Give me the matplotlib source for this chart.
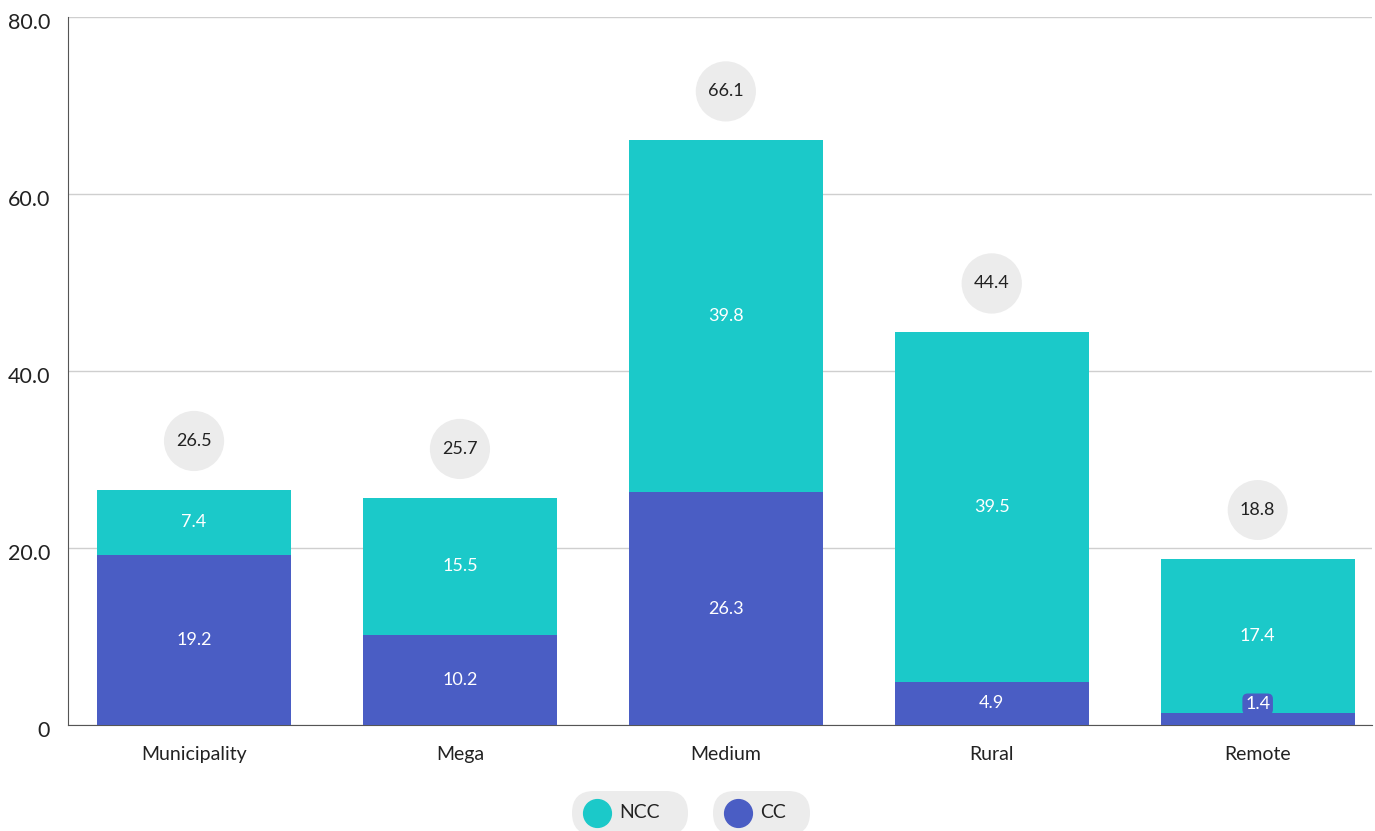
import matplotlib
matplotlib.use("Agg")
import matplotlib.pyplot as plt
from matplotlib.patches import FancyBboxPatch
from matplotlib.lines import Line2D
from matplotlib.transforms import ScaledTranslation

categories = ["Municipality", "Mega", "Medium", "Rural", "Remote"]
cc_values = [19.2, 10.2, 26.3, 4.9, 1.4]
ncc_values = [7.4, 15.5, 39.8, 39.5, 17.4]
total_labels = ["26.5", "25.7", "66.1", "44.4", "18.8"]
y_ticks = [0, 20, 40, 60, 80]
y_tick_labels = ["0", "20.0", "40.0", "60.0", "80.0"]

TEAL = "#1bc9c9"
BLUE = "#4a5dc4"
TEXT = "#222222"
FONT = ["Lato", "DejaVu Sans"]

plt.rcParams["font.family"] = FONT

fig = plt.figure(figsize=(13.75, 8.31), dpi=100)
W, H = 1375, 831
ax = fig.add_axes([68 / W, 1 - 725 / H, (1372 - 68) / W, (725 - 17) / H])

x = list(range(len(categories)))
width = 0.73
ax.bar(x, cc_values, width=width, color=BLUE, zorder=3)
ax.bar(x, ncc_values, width=width, bottom=cc_values, color=TEAL, zorder=3)

ax.set_xlim(-0.474, 4.43)
ax.set_ylim(0, 80)
ax.set_yticks(y_ticks)
ax.set_yticklabels(y_tick_labels, fontsize=15.5, color=TEXT)
ax.set_xticks(x)
ax.set_xticklabels(categories, fontsize=14, color=TEXT)
ax.tick_params(axis="both", length=0)
ax.tick_params(axis="y", pad=13)
ax.tick_params(axis="x", pad=15)
# y labels sit slightly below their gridlines
shift = ScaledTranslation(0, -4 / 100, fig.dpi_scale_trans)
for lbl in ax.get_yticklabels():
    lbl.set_transform(lbl.get_transform() + shift)
ax.yaxis.grid(True, color="#cfcfcf", linewidth=1, zorder=0)
ax.set_axisbelow(True)
for side in ["top", "right"]:
    ax.spines[side].set_visible(False)
ax.spines["left"].set_color("#555555")
ax.spines["bottom"].set_color("#555555")

# segment labels
for i, (c, n) in enumerate(zip(cc_values, ncc_values)):
    if c >= 3:
        ax.text(i, c / 2, f"{c:.1f}", ha="center", va="center",
                color="white", fontsize=13, zorder=5)
    else:
        ax.text(i, c + 0.95, f"{c:.1f}", ha="center", va="center",
                color="white", fontsize=13, zorder=5,
                bbox=dict(boxstyle="round,pad=0.15,rounding_size=0.3",
                          fc=BLUE, ec="none"))
    ax.text(i, c + n / 2, f"{n:.1f}", ha="center", va="center",
            color="white", fontsize=13, zorder=5)

# totals in circles above each stack
for i, (c, n, lab) in enumerate(zip(cc_values, ncc_values, total_labels)):
    ax.annotate(lab, xy=(i, c + n), xytext=(0, 35), textcoords="offset points",
                ha="center", va="center", fontsize=13, color=TEXT, zorder=6,
                bbox=dict(boxstyle="circle,pad=0.68", fc="#ececec", ec="none"),
                annotation_clip=False)

# pill-shaped legend at the bottom
legend_items = [("NCC", TEAL, 572, 688), ("CC", BLUE, 713, 810)]
yc = 813
for label, color, x0, x1 in legend_items:
    h = 44
    pill = FancyBboxPatch((x0 / W, (H - yc - h / 2) / H), (x1 - x0) / W, h / H,
                          boxstyle=f"round,pad=0,rounding_size={h / 2 / W}",
                          transform=fig.transFigure, fc="#ececec", ec="none",
                          mutation_aspect=W / H)
    fig.patches.append(pill)
    fig.lines.append(Line2D([(x0 + 25) / W], [(H - yc) / H], marker="o",
                            markersize=20, color=color, linestyle="none",
                            transform=fig.transFigure))
    fig.text((x0 + 47) / W, (H - yc) / H, label, ha="left", va="center",
             fontsize=14, color=TEXT)

fig.savefig("out.png", dpi=100)
